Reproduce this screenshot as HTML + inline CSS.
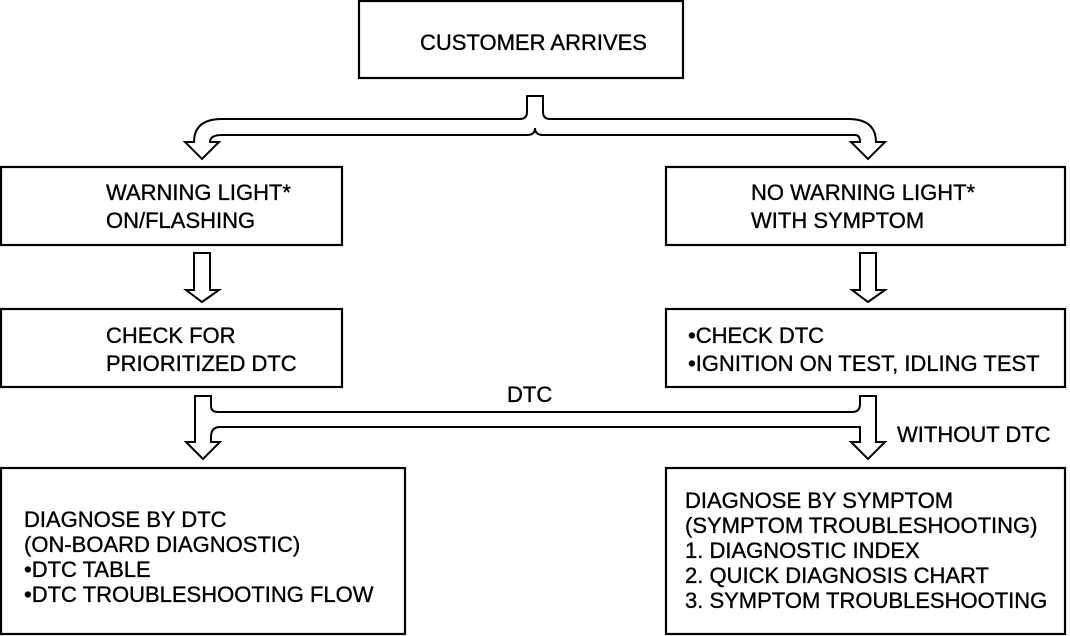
<!DOCTYPE html>
<html><head><meta charset="utf-8"><style>
body{margin:0;background:#fff}
svg{display:block}
text{font-family:"Liberation Sans",Arial,sans-serif;font-size:22px;fill:#000;stroke:#000;stroke-width:0.35}
</style></head><body>
<svg width="1070" height="636" viewBox="0 0 1070 636" xmlns="http://www.w3.org/2000/svg">
<g fill="none" stroke="#000" stroke-width="2.2">
<rect x="359" y="1" width="324" height="77"/>
<rect x="1" y="167" width="341" height="78"/>
<rect x="666" y="167" width="399" height="78"/>
<rect x="1" y="309" width="341" height="78"/>
<rect x="666" y="309" width="399" height="78"/>
<rect x="1" y="468" width="404" height="166"/>
<rect x="666" y="468" width="399" height="166"/>
<path d="M527,96 V112 Q527,119 520,119 H222 Q194,119 194,142 H185 L202,159 L219,142 H210 Q210,135 222,135 H527 Q535,135 535,128 Q535,135 543,135 H855 Q860,135 860,142 H851 L868,159 L885,142 H876 Q876,119 848,119 H550 Q543,119 543,112 V96 Z" stroke-width="2"/>
<path d="M194,253 V290 H186 L202,302 L219,290 H210 V253 Z" stroke-width="2"/>
<path d="M860,253 V290 H852 L868,302 L885,290 H876 V253 Z" stroke-width="2"/>
<path d="M195,396 V442 H186 L203,459 L220,442 H211 V437 Q211,427 220,427 H860 V442 H851 L868,459 L885,442 H876 V396 H860 V404 Q860,412 852,412 H218 Q211,412 211,406 V396 Z" stroke-width="2"/>
</g>
<text x="420" y="50">CUSTOMER ARRIVES</text>
<text x="106" y="200">WARNING LIGHT*</text>
<text x="106" y="228">ON/FLASHING</text>
<text x="751" y="200">NO WARNING LIGHT*</text>
<text x="751" y="228">WITH SYMPTOM</text>
<text x="106" y="343">CHECK FOR</text>
<text x="106" y="371">PRIORITIZED DTC</text>
<text x="688" y="343">•CHECK DTC</text>
<text x="688" y="371">•IGNITION ON TEST, IDLING TEST</text>
<text x="507" y="402">DTC</text>
<text x="897" y="442">WITHOUT DTC</text>
<text x="24" y="527">DIAGNOSE BY DTC</text>
<text x="24" y="552">(ON-BOARD DIAGNOSTIC)</text>
<text x="24" y="577">•DTC TABLE</text>
<text x="24" y="602">•DTC TROUBLESHOOTING FLOW</text>
<text x="685" y="508">DIAGNOSE BY SYMPTOM</text>
<text x="685" y="533">(SYMPTOM TROUBLESHOOTING)</text>
<text x="685" y="558">1. DIAGNOSTIC INDEX</text>
<text x="685" y="583">2. QUICK DIAGNOSIS CHART</text>
<text x="685" y="608">3. SYMPTOM TROUBLESHOOTING</text>
</svg>
</body></html>
